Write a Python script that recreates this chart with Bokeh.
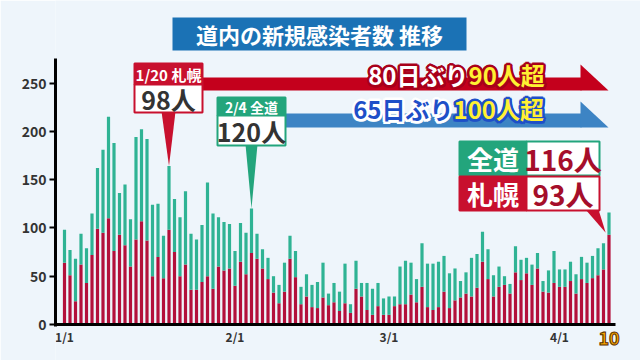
from bokeh.plotting import figure
from bokeh.models import Range1d, FixedTicker, ColumnDataSource
from bokeh.core.properties import value
from bokeh.embed import file_html
from bokeh.resources import INLINE

# ---------------- data (1/1 .. 4/10) ----------------
total = [98, 77, 68, 94, 79, 115, 162, 181, 215, 188,
         136, 145, 109, 194, 202, 192, 124, 125, 92, 164,
         130, 111, 138, 94, 88, 103, 147, 115, 111, 106,
         104, 76, 105, 95, 120, 94, 78, 69, 50, 41,
         64, 92, 76, 39, 52, 41, 44, 64, 32, 43,
         34, 63, 21, 66, 43, 43, 37, 43, 27, 29,
         29, 60, 66, 64, 47, 84, 63, 63, 65, 71,
         53, 58, 45, 54, 69, 73, 96, 78, 51, 60,
         50, 42, 81, 67, 69, 62, 74, 45, 56, 76,
         57, 57, 65, 52, 70, 64, 71, 79, 84, 116]
sapporo = [64, 51, 24, 62, 43, 72, 99, 95, 110, 76,
           93, 82, 60, 88, 107, 87, 50, 70, 48, 98,
           75, 50, 62, 36, 36, 44, 50, 37, 60, 56,
           58, 40, 65, 52, 74, 68, 58, 47, 33, 22,
           34, 68, 49, 21, 29, 18, 17, 28, 20, 23,
           14, 22, 12, 37, 29, 15, 10, 19, 10, 10,
           19, 21, 21, 31, 23, 39, 18, 15, 18, 34,
           17, 25, 28, 32, 29, 38, 65, 47, 29, 39,
           41, 32, 54, 46, 53, 41, 58, 34, 33, 43,
           39, 39, 45, 32, 47, 43, 48, 51, 57, 93]
days = list(range(len(total)))
tick_days = [0, 31, 59, 90]
tick_labels = ["1/1", "2/1", "3/1", "4/1"]
last_label = "10"
y_ticks = [0, 50, 100, 150, 200, 250]
peak_sap_day = 19     # 1/20
peak_tot_day = 34     # 2/4

FONT = "Noto Sans CJK JP"
RED = "#b3103b"
TEAL = "#2fb394"
HRED = "#c8102e"
GREEN = "#23a57c"
BLUE = "#3d84c4"
DARK = "#333333"
NUMRED = "#a50e2a"

# ---------------- geometry helpers (pixel -> data) ----------------
W, H = 640, 360
FL = 55
BASE = 324          # pixel row of value 0
PX_DAY = 5.5
X0PX = 64.0
PX_UNIT = 0.966
XS = (FL - X0PX) / PX_DAY
XE = (W - X0PX) / PX_DAY


def X(px):
    return (px - X0PX) / PX_DAY


def Y(py):
    return (BASE - py) / PX_UNIT


p = figure(width=W, height=H, x_range=Range1d(XS, XE), y_range=Range1d(Y(H), Y(0)),
           output_backend="svg", toolbar_location=None,
           min_border_left=FL, min_border_right=0, min_border_top=0, min_border_bottom=0)
p.background_fill_color = "#eef5fb"
p.border_fill_color = "#eef5fb"
p.outline_line_color = None
p.grid.visible = False

# axes
ya = p.yaxis[0]
ya.ticker = FixedTicker(ticks=y_ticks)
ya.bounds = (Y(BASE + 1.5), 275)
ya.axis_line_width = 3
ya.axis_line_color = "black"
ya.major_tick_line_width = 2
ya.major_tick_line_color = "black"
ya.major_tick_out = 6
ya.major_tick_in = 0
ya.minor_tick_out = 0
ya.minor_tick_in = 0
ya.major_label_text_font = FONT
ya.major_label_text_font_size = "14px"
ya.major_label_text_font_style = "bold"
ya.major_label_text_color = DARK
ya.major_label_standoff = 3

xa = p.xaxis[0]
xa.fixed_location = 0
xa.ticker = FixedTicker(ticks=tick_days)
xa.major_label_overrides = {d: l for d, l in zip(tick_days, tick_labels)}
xa.bounds = (XS, X(615))
xa.axis_line_width = 3
xa.axis_line_color = "black"
xa.major_tick_out = 0
xa.major_tick_in = 0
xa.minor_tick_out = 0
xa.minor_tick_in = 0
xa.major_label_text_font = FONT
xa.major_label_text_font_size = "12px"
xa.major_label_text_font_style = "bold"
xa.major_label_text_color = DARK
xa.major_label_standoff = 3

# bars
src = ColumnDataSource(dict(day=days, total=total, sapporo=sapporo))
p.vbar(x="day", bottom=0, top="sapporo", width=0.58, fill_color=RED, line_color=None, source=src)
p.vbar(x="day", bottom="sapporo", top="total", width=0.58, fill_color=TEAL, line_color=None, source=src)


def txt(px, py, s, size, color, align="center", outline=None):
    p.text(x=[X(px)], y=[Y(py)], text=[s], text_font=value(FONT),
           text_font_size=f"{size}px", text_color=color, text_align=align,
           text_baseline="middle", text_font_style="bold", text_outline_color=outline)


OFFS = [(-2, 0), (2, 0), (0, -2), (0, 2), (-1.5, -1.5), (1.5, 1.5), (-1.5, 1.5), (1.5, -1.5)]


def otxt(px, py, s, size, color, outline, align, offs=OFFS):
    # thick outline: outline-coloured copies around, fill on top
    for dx, dy in offs:
        p.text(x=[X(px)], y=[Y(py)], text=[s], text_font=value(FONT),
               text_font_size=f"{size}px", text_color=outline, text_align=align,
               text_baseline="middle", text_font_style="bold",
               text_outline_color=outline, x_offset=dx, y_offset=dy)
    txt(px, py, s, size, color, align)


def box(l, t, r, b, fill, line=None, lw=2):
    p.quad(left=X(l), right=X(r), top=Y(t), bottom=Y(b), fill_color=fill,
           line_color=line, line_width=lw)


# title
box(172, 17, 466, 50, "#1b72b5")
txt(319, 33.5, "道内の新規感染者数 推移", 22, "white")

# unit
txt(40, 63, "(人)", 10, DARK)

# red arrow band
box(202, 77, 581, 90, "#c4001c")
p.patch(x=[X(580), X(608), X(580)], y=[Y(64), Y(90), Y(90)], fill_color="#c4001c", line_color=None)
otxt(468, 74, "80日ぶり", 24, "white", "#a8001a", "right")
otxt(468, 74, "90人超", 24, "#fff033", "#a8001a", "left")

# blue arrow band
box(285, 113, 581, 127, BLUE)
p.patch(x=[X(580), X(608), X(580)], y=[Y(101), Y(127), Y(127)], fill_color=BLUE, line_color=None)
otxt(453, 108, "65日ぶり", 24, "#1e4fc8", "white", "right")
otxt(453, 108, "100人超", 24, "#fff033", "#1e4fc8", "left")

# 1/20 Sapporo callout
p.patch(x=[X(161), X(175), peak_sap_day], y=[Y(111), Y(111), total[peak_sap_day]],
        fill_color=HRED, line_color=None)
box(134, 63, 202, 84, HRED, HRED, 2)
box(134, 84, 202, 112, "white", HRED, 2)
txt(168, 73.5, "1/20 札幌", 15, "white")
txt(168, 98.5, f"{sapporo[peak_sap_day]}人", 25, DARK)

# 2/4 total callout
p.patch(x=[X(245), X(257), peak_tot_day], y=[Y(144), Y(144), total[peak_tot_day]],
        fill_color=GREEN, line_color=None)
box(217, 97, 285, 115, GREEN, GREEN, 2)
box(217, 115, 285, 145, "white", GREEN, 2)
txt(251, 106, "2/4 全道", 14, "white")
txt(251, 130.5, f"{total[peak_tot_day]}人", 25, DARK)

# latest-day callout
last = days[-1]
p.patch(x=[X(585), X(598), last - 0.6], y=[Y(209), Y(209), sapporo[-1] + 2],
        fill_color=HRED, line_color=None)
box(459, 141, 526, 175, GREEN, GREEN, 2)
box(526, 141, 599, 175, "white", GREEN, 2)
box(459, 176, 526, 210, HRED, HRED, 2)
box(526, 176, 599, 210, "white", HRED, 2)
txt(492.5, 158, "全道", 26, "white")
txt(562.5, 158, f"{total[-1]}人", 28, NUMRED)
txt(492.5, 193, "札幌", 26, "white")
txt(562.5, 193, f"{sapporo[-1]}人", 28, NUMRED)

# last-day label under the axis
p.text(x=[last], y=[Y(337)], text=[last_label], text_font=value(FONT), text_font_size="18px",
       text_color="#f5a400", text_align="center", text_baseline="middle",
       text_font_style="bold", text_outline_color="#5a2e00")

open("out.html", "w").write(file_html(p, INLINE))
